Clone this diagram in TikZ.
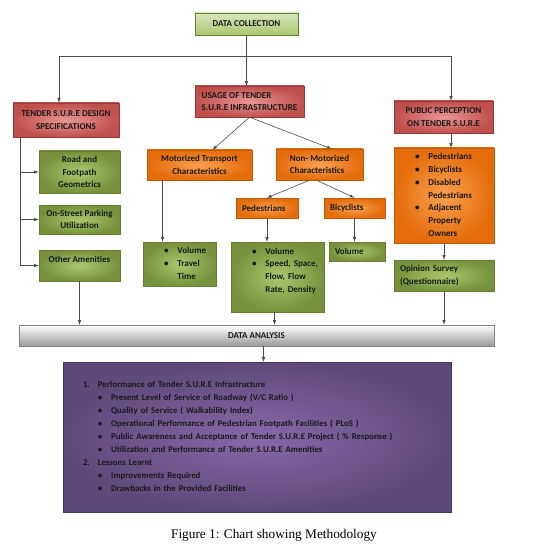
\documentclass[tikz,border=0pt]{standalone}
\usepackage{fontspec}
\setmainfont{Carlito}
\newfontfamily\capfont{Liberation Serif}
\usepackage{tikz}
\usetikzlibrary{arrows}
\usetikzlibrary{shadows}
\definecolor{dgreen}{RGB}{100, 125, 50}
\definecolor{mgreen}{RGB}{118, 146, 60}
\definecolor{lgreen}{RGB}{170, 200, 110}
\definecolor{dred}{RGB}{150, 55, 52}
\definecolor{mred}{RGB}{192, 80, 77}
\definecolor{lred}{RGB}{232, 150, 148}
\definecolor{dorange}{RGB}{190, 90, 10}
\definecolor{morange}{RGB}{228, 108, 10}
\definecolor{lorange}{RGB}{250, 160, 80}
\definecolor{dpurple}{RGB}{70, 55, 95}
\definecolor{mpurple}{RGB}{95, 73, 122}
\definecolor{lpurple}{RGB}{135, 105, 170}
\tikzset{box/.style = {draw, rectangle, inner sep = 2, text = black!90, font = \bfseries\fontsize{9}{12.7}\selectfont, drop shadow = {opacity = 0.3, shadow xshift = 0.8pt, shadow yshift = -1.2pt}}}
\tikzset{greenbox/.style = {box, draw = dgreen, inner color = lgreen, outer color = mgreen}}
\tikzset{redbox/.style = {box, draw = dred, inner color = lred, outer color = mred}}
\tikzset{orangebox/.style = {box, draw = dorange, inner color = lorange, outer color = morange}}
\tikzset{purplebox/.style = {box, draw = dpurple, inner color = lpurple, outer color = mpurple, inner sep = 0, font = \bfseries\fontsize{8.8}{13}\selectfont}}
\tikzset{leftbox/.style = {align = left, inner xsep = 6}}
\tikzset{listbox/.style = {align = left, inner xsep = 0}}
\tikzset{wire/.style = {draw = black!70, line width = 0.6}}
\tikzset{link/.style = {wire, -latex}}

\begin{document}
\begin{tikzpicture}[x = 1pt, y = -1pt]
      \useasboundingbox [fill = white] (0, 0) rectangle (548, 548);

      \node [box, draw = dgreen, top color = lgreen!45!white, bottom color = lgreen, minimum width = 103, minimum height = 22] (collect) at (246.5, 24) {DATA COLLECTION};

      \node [redbox, align = center, minimum width = 106, minimum height = 34] (design) at (66, 120) {TENDER S.U.R.E DESIGN\\SPECIFICATIONS};

      \node [redbox, align = left, minimum width = 109, minimum height = 31] (usage) at (249.5, 101.5) {USAGE OF TENDER\\S.U.R.E INFRASTRUCTURE};

      \node [redbox, align = center, minimum width = 99, minimum height = 32] (perception) at (443.5, 117) {PUBLIC PERCEPTION\\ON TENDER S.U.R.E};

      \node [greenbox, align = center, minimum width = 81, minimum height = 42] (road) at (79.5, 172) {Road and\\Footpath\\Geometrics};

      \node [greenbox, align = center, minimum width = 81, minimum height = 29] (parking) at (79.5, 219.5) {On-Street Parking\\Utilization};

      \node [greenbox, align = center, minimum width = 81, minimum height = 31] (amen) at (79.5, 265.5) {Other Amenities\\\mbox{}};

      \node [orangebox, align = center, minimum width = 105, minimum height = 30] (motor) at (199.5, 165) {Motorized Transport\\Characteristics};

      \node [orangebox, align = left, minimum width = 87, minimum height = 31] (nonmotor) at (319.5, 164.5) {Non- Motorized\\Characteristics};

      \node [orangebox, leftbox, text width = 50, minimum height = 20] (ped) at (267, 208) {Pedestrians};

      \node [orangebox, leftbox, text width = 49, minimum height = 20] (cyc) at (354.5, 208) {Bicyclists};

      \node [greenbox, listbox, text width = 73, minimum height = 44] (mvol) at (179.5, 264) {\begin{tabular}{@{\hspace{21pt}}l@{\hspace{9pt}}l@{}}
        \textbullet & Volume\\
        \textbullet & Travel\\
        & Time
      \end{tabular}};

      \node [greenbox, listbox, text width = 93, minimum height = 70] (pvol) at (277.5, 277) {\begin{tabular}{@{\hspace{21pt}}l@{\hspace{9pt}}l@{}}
        \textbullet & Volume\\
        \textbullet & Speed, Space,\\
        & Flow, Flow\\
        & Rate, Density\\
        & \mbox{}
      \end{tabular}};

      \node [greenbox, leftbox, text width = 44, minimum height = 19] (cvol) at (357, 251.5) {Volume};

      \node [orangebox, listbox, text width = 100, minimum height = 95] (pbul) at (444, 195.5) {\begin{tabular}{@{\hspace{21pt}}l@{\hspace{9pt}}l@{}}
        \textbullet & Pedestrians\\
        \textbullet & Bicyclists\\
        \textbullet & Disabled\\
        & Pedestrians\\
        \textbullet & Adjacent\\
        & Property\\
        & Owners
      \end{tabular}};

      \node [greenbox, leftbox, text width = 88, minimum height = 31] (survey) at (444, 275.5) {Opinion Survey\\(Questionnaire)};

      \node [box, draw = black!50, top color = white, bottom color = black!40, font = \bfseries\fontsize{9}{11}\selectfont, minimum width = 475, minimum height = 21] (analysis) at (256.5, 335.5) {DATA ANALYSIS};

      \node [purplebox, listbox, text width = 388, minimum height = 150] (result) at (257, 437) {\begin{tabular}{@{\hspace{20pt}}l@{\hspace{8pt}}l@{\hspace{9pt}}l@{}}
        1. & \multicolumn{2}{@{}l@{}}{Performance of Tender S.U.R.E Infrastructure}\\
        & \textbullet & Present Level of Service of Roadway (V/C Ratio )\\
        & \textbullet & Quality of Service ( Walkability Index)\\
        & \textbullet & Operational Performance of Pedestrian Footpath Facilities ( PLoS )\\
        & \textbullet & Public Awareness and Acceptance of Tender S.U.R.E Project ( \% Response )\\
        & \textbullet & Utilization and Performance of Tender S.U.R.E Amenities\\
        2. & \multicolumn{2}{@{}l@{}}{Lessons Learnt}\\
        & \textbullet & Improvements Required\\
        & \textbullet & Drawbacks in the Provided Facilities
      \end{tabular}};

      \node [font = \capfont\fontsize{13.3}{15}\selectfont] (caption) at (274, 535) {Figure 1: Chart showing Methodology};

      \coordinate (jl) at (59, 56);
      \coordinate (jr) at (451, 56);
      \coordinate (spine) at ([xshift = 7]design.south west);

      \draw [link] (collect.south) -- (collect.south |- usage.north);
      \draw [wire] (jl) -- (jr);
      \draw [link] (jl) -- (jl |- design.north);
      \draw [link] (jr) -- (jr |- perception.north);

      \draw [wire] (spine) -- (spine |- amen.west);
      \draw [link] (spine |- road.west) -- (road.west);
      \draw [link] (spine |- parking.west) -- (parking.west);
      \draw [link] (spine |- amen.west) -- (amen.west);

      \draw [link] (usage.south) -- ([xshift = 13]motor.north);
      \draw [link] (usage.south) -- ([xshift = 12]nonmotor.north);
      \draw [link] ([xshift = -37]motor.south) -- ([xshift = -37]motor.south |- mvol.north);
      \draw [link] ([xshift = -10]nonmotor.south) -- (ped.north);
      \draw [link] ([xshift = -3]nonmotor.south) -- (cyc.north);
      \draw [link] (ped.south) -- (ped.south |- pvol.north);
      \draw [link] (cyc.south) -- (cyc.south |- cvol.north);
      \draw [link] (jr |- perception.south) -- (jr |- pbul.north);
      \draw [link] (pbul.south) -- (survey.north);

      \draw [link] (amen.south) -- (amen.south |- analysis.north);
      \draw [link] ([xshift = -3]pvol.south) -- ([xshift = -3]pvol.south |- analysis.north);
      \draw [link] (survey.south) -- (survey.south |- analysis.north);
      \draw [link] ([xshift = 7]analysis.south) -- ([xshift = 7]analysis.south |- result.north);
    \end{tikzpicture}
\end{document}
